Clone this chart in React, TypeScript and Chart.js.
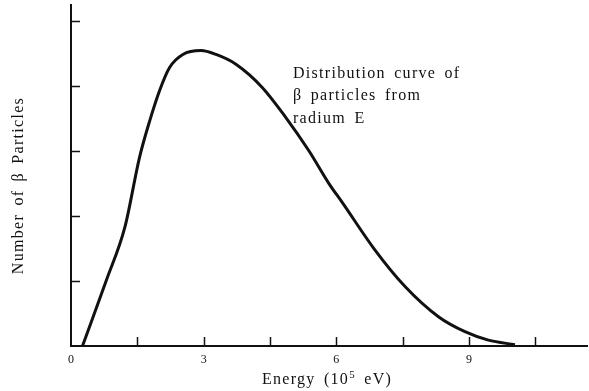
import React, { useEffect, useRef } from "react";
import { Chart, registerables } from "chart.js";

Chart.register(...registerables);

// Energy in units of 10^5 eV
const energy = [0.26, 0.8, 1.22, 1.55, 1.78, 2.0, 2.23, 2.53, 2.94, 3.28, 3.73, 4.33, 4.86, 5.38, 5.83, 6.13, 6.88, 7.56, 8.31, 8.91, 9.44, 10.04];
// Relative number of beta particles
const count = [0, 1.01, 1.83, 2.9, 3.46, 3.92, 4.28, 4.48, 4.54, 4.48, 4.33, 3.97, 3.51, 3.0, 2.5, 2.21, 1.47, 0.91, 0.45, 0.22, 0.09, 0.02];

const xTickStep = 1.5;
const xLabelEvery = 3;
const yTickStep = 1;
const xMax = 11.67;
const yMax = 5.24;

const annotationLines = ["Distribution curve of", "β particles from", "radium E"];
const annotationAt = { x: 5.02, y: 4.12 };
const xTitleParts = ["Energy (10", "5", " eV)"];
const yTitle = "Number of β Particles";

const SERIF = "'Liberation Serif', 'DejaVu Serif', serif";
const INK = "#111111";

const decorPlugin = {
  id: "decor",
  afterDatasetsDraw(chart: any) {
    const { ctx, chartArea } = chart;
    const x = chart.scales.x;
    const y = chart.scales.y;
    ctx.save();
    // inward tick marks
    ctx.strokeStyle = INK;
    ctx.lineWidth = 1.5;
    x.ticks.forEach((t: any) => {
      if (t.value <= 0) return;
      const px = Math.round(x.getPixelForValue(t.value)) + 0.5;
      ctx.beginPath();
      ctx.moveTo(px, chartArea.bottom);
      ctx.lineTo(px, chartArea.bottom - 9);
      ctx.stroke();
    });
    y.ticks.forEach((t: any) => {
      if (t.value <= 0) return;
      const py = Math.round(y.getPixelForValue(t.value)) + 0.5;
      ctx.beginPath();
      ctx.moveTo(chartArea.left, py);
      ctx.lineTo(chartArea.left + 9, py);
      ctx.stroke();
    });

    ctx.fillStyle = INK;
    ctx.font = `16px ${SERIF}`;
    (ctx as any).letterSpacing = "1.3px";
    (ctx as any).wordSpacing = "3px";
    ctx.textBaseline = "alphabetic";
    ctx.textAlign = "left";

    // annotation
    const ax = x.getPixelForValue(annotationAt.x);
    const ay = y.getPixelForValue(annotationAt.y);
    annotationLines.forEach((line, i) => {
      ctx.fillText(line, ax, ay + i * 22.5);
    });

    // x title with superscript
    const w0 = ctx.measureText(xTitleParts[0]).width;
    ctx.font = `11px ${SERIF}`;
    const w1 = ctx.measureText(xTitleParts[1]).width;
    ctx.font = `16px ${SERIF}`;
    const w2 = ctx.measureText(xTitleParts[2]).width;
    const total = w0 + w1 + w2;
    let cx = (chartArea.left + chartArea.right) / 2 - 2 - total / 2;
    const base = chartArea.bottom + 38;
    ctx.fillText(xTitleParts[0], cx, base);
    cx += w0;
    ctx.font = `11px ${SERIF}`;
    ctx.fillText(xTitleParts[1], cx, base - 6);
    cx += w1;
    ctx.font = `16px ${SERIF}`;
    ctx.fillText(xTitleParts[2], cx, base);

    // y title
    ctx.translate(19, (chartArea.top + chartArea.bottom) / 2 + 10);
    ctx.rotate(-Math.PI / 2);
    ctx.textAlign = "center";
    ctx.textBaseline = "middle";
    ctx.fillText(yTitle, 0, 0);
    ctx.restore();
  },
};

export default function App() {
  const ref = useRef<HTMLCanvasElement | null>(null);

  useEffect(() => {
    if (!ref.current) return;
    const points = energy.map((e, i) => ({ x: e, y: count[i] }));
    const chart = new Chart(ref.current, {
      type: "scatter",
      data: {
        datasets: [
          {
            data: points,
            showLine: true,
            borderColor: INK,
            borderWidth: 3,
            pointRadius: 0,
            cubicInterpolationMode: "monotone",
            clip: false,
          } as any,
        ],
      },
      options: {
        animation: false,
        responsive: false,
        layout: { padding: { top: 5, right: 2, left: 0, bottom: 0 } },
        plugins: { legend: { display: false }, tooltip: { enabled: false } },
        scales: {
          x: {
            type: "linear",
            min: 0,
            max: xMax,
            afterFit: (s: any) => {
              s.height = 45;
            },
            border: { display: true, color: INK, width: 2 },
            grid: { display: false, drawTicks: false },
            ticks: {
              stepSize: xTickStep,
              includeBounds: false,
              autoSkip: false,
              maxRotation: 0,
              padding: 7,
              color: INK,
              font: { family: SERIF, size: 12 },
              callback: (v: any) => {
                const n = Number(v);
                const r = n / xLabelEvery;
                return Math.abs(r - Math.round(r)) < 1e-6 ? String(Math.round(n)) : "";
              },
            },
          } as any,
          y: {
            type: "linear",
            min: 0,
            max: yMax,
            afterFit: (s: any) => {
              s.width = 71;
            },
            border: { display: true, color: INK, width: 2 },
            grid: { display: false, drawTicks: false },
            ticks: { display: false, stepSize: yTickStep, includeBounds: false },
          } as any,
        },
      },
      plugins: [decorPlugin],
    });
    return () => chart.destroy();
  }, []);

  return (
    <div style={{ position: "absolute", left: 0, top: 0, width: 589, height: 391, background: "#fff" }}>
      <canvas ref={ref} width={589} height={391} style={{ display: "block" }} />
    </div>
  );
}
